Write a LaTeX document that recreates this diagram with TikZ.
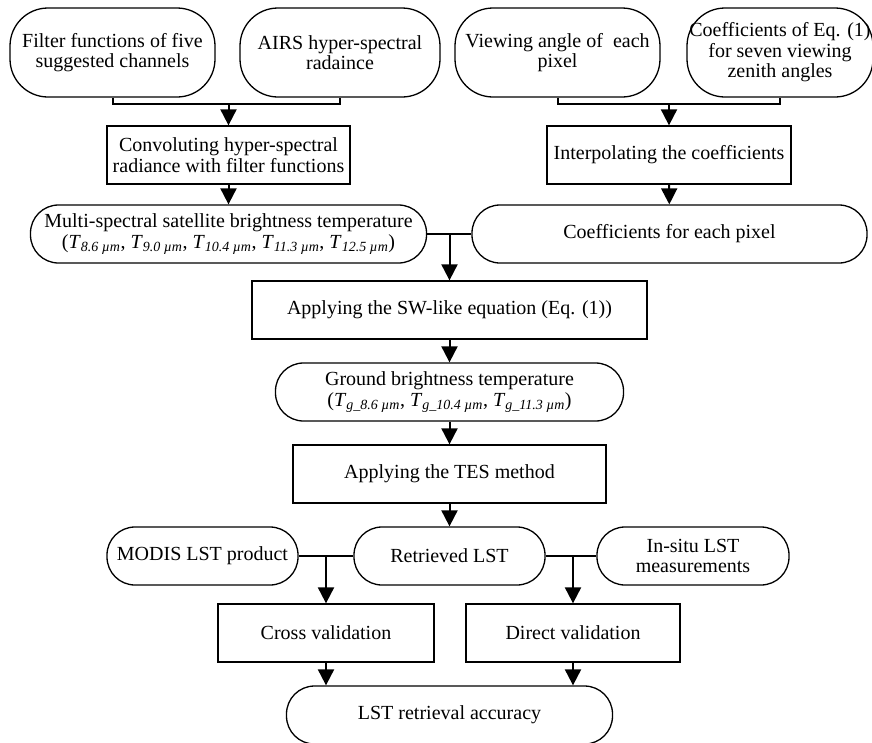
\documentclass[tikz,border=0pt]{standalone}
\usepackage{fontspec}
\setmainfont{Liberation Serif}
\usepackage{tikz}
\usetikzlibrary{arrows.meta,positioning,shapes}

\begin{document}
\begin{tikzpicture}[x=1pt, y=-1pt, node distance=82pt, font=\fontsize{20}{20.5}\selectfont]
    \tikzstyle{block} = [rectangle, draw, line width=1.3pt, align=center, inner sep=0pt, minimum height=58pt]
    \tikzstyle{pill} = [block, rounded corners=28pt]
    \tikzstyle{input} = [block, rounded corners=38pt, minimum height=89pt]
    \tikzstyle{line} = [line width=2pt]
    \tikzstyle{arrow} = [line width=2pt, -{Triangle[width=16pt,length=16pt]}]

    \useasboundingbox (0,0) rectangle (872,742);

    \node [input, minimum width=205pt] (filter) at (112.5,52.5) {Filter functions of five\\suggested channels};
    \node [input, minimum width=200pt] (airs) at (340,52.5) {AIRS hyper-spectral\\radaince};
    \node [input, minimum width=205pt] (view) at (557.5,52.5) {Viewing angle of\ \ each\\pixel};
    \node [input, minimum width=186pt] (coef) at (780,52.5) {Coefficients of Eq. (1)\\for seven viewing\\zenith angles};

    \node [block, minimum width=243pt] (conv) at (228.5,155) {Convoluting hyper-spectral\\radiance with filter functions};
    \node [block, minimum width=244pt] (interp) at (669,155) {Interpolating the coefficients};

    \node [pill, minimum width=396pt] (multi) at (228.5,234) {Multi-spectral satellite brightness temperature\\(\textit{T}\textsubscript{\textit{8.6 µm}}, \textit{T}\textsubscript{\textit{9.0 µm}}, \textit{T}\textsubscript{\textit{10.4 µm}}, \textit{T}\textsubscript{\textit{11.3 µm}}, \textit{T}\textsubscript{\textit{12.5 µm}})};
    \node [pill, minimum width=395pt] (coefpix) at (669.5,234) {Coefficients for each pixel};

    \node [block, minimum width=395pt] (sw) at (449.5,310) {Applying the SW-like equation (Eq. (1))};
    \node [pill, minimum width=348pt, below of=sw] (ground) {Ground brightness temperature\\(\textit{T}\textsubscript{\textit{g\_8.6 µm}}, \textit{T}\textsubscript{\textit{g\_10.4 µm}}, \textit{T}\textsubscript{\textit{g\_11.3 µm}})};
    \node [block, minimum width=313pt, below of=ground] (tes) {Applying the TES method};
    \node [pill, minimum width=191pt, below of=tes] (retrieved) {Retrieved LST};
    \node [pill, minimum width=191pt] (modis) at (202.5,556) {MODIS LST product};
    \node [pill, minimum width=192pt] (insitu) at (693,556) {In-situ LST\\measurements};

    \node [block, minimum width=216pt] (cross) at (326,633) {Cross validation};
    \node [block, minimum width=214pt] (direct) at (573,633) {Direct validation};
    \node [pill, minimum width=326pt] (acc) at (449.5,715) {LST retrieval accuracy};

    \coordinate (j1) at (228.5,104);
    \coordinate (j2) at (669,104);
    \coordinate (j3) at (449.5,234);
    \coordinate (j4) at (326,556);
    \coordinate (j5) at (573,556);

    \draw [line] (filter.south) |- (j1) -| (airs.south);
    \draw [line] (view.south) |- (j2) -| (coef.south);
    \draw [arrow] (j1) -- (conv);
    \draw [arrow] (j2) -- (interp);
    \draw [arrow] (conv) -- (multi);
    \draw [arrow] (interp) -- (coefpix);
    \draw [line] (multi) -- (coefpix);
    \draw [arrow] (j3) -- (sw);
    \draw [arrow] (sw) -- (ground);
    \draw [arrow] (ground) -- (tes);
    \draw [arrow] (tes) -- (retrieved);
    \draw [line] (modis) -- (retrieved);
    \draw [line] (retrieved) -- (insitu);
    \draw [arrow] (j4) -- (cross);
    \draw [arrow] (j5) -- (direct);
    \draw [arrow] (cross.south) -- (cross.south |- acc.north);
    \draw [arrow] (direct.south) -- (direct.south |- acc.north);

\end{tikzpicture}
\end{document}
